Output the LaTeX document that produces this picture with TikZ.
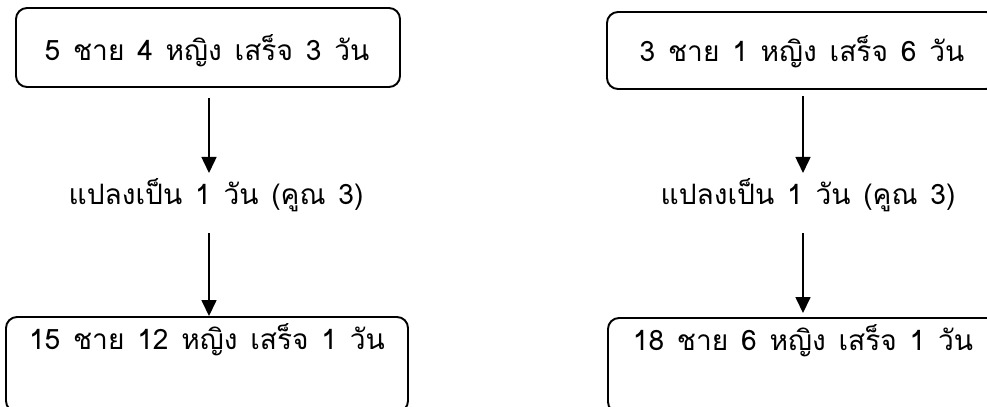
\documentclass[tikz,border=0pt]{standalone}
\usepackage{fontspec}
\newfontfamily\thaifont[Script=Thai,WordSpace=1.35]{Loma}
\usetikzlibrary{positioning,arrows.meta}
\tikzset{
  stepbox/.style={draw=black, line width=1.1pt, rounded corners=0.22cm},
  flow/.style={-{Triangle[length=0.32cm,width=0.3cm]}, line width=0.9pt},
  word/.style={font=\thaifont\fontsize{16}{19}\selectfont, inner sep=0pt}
}
\begin{document}
\begin{tikzpicture}
  \clip (0,0) rectangle (19.74,-8.14);

  % left column
  \node[stepbox, minimum width=7.68cm, minimum height=1.58cm] (top1) at (4.16,-0.95) {};
  \node[word] (top1text) at (4.14,-1.02) {5 ชาย 4 หญิง เสร็จ 3 วัน};
  \node[word] (mid1) at (4.32,-3.9) {แปลงเป็น 1 วัน (คูณ 3)};
  \node[stepbox, minimum width=8.04cm, minimum height=1.9cm] (bot1) at (4.14,-7.29) {};
  \node[word] (bot1text) at (4.14,-6.8) {15 ชาย 12 หญิง เสร็จ 1 วัน};

  % right column
  \node[stepbox, minimum width=7.8cm, minimum height=1.54cm] (top2) at (16.04,-1.01) {};
  \node[word] (top2text) at (16.04,-1.04) {3 ชาย 1 หญิง เสร็จ 6 วัน};
  \node[word] (mid2) at (16.16,-3.9) {แปลงเป็น 1 วัน (คูณ 3)};
  \node[stepbox, minimum width=7.8cm, minimum height=1.9cm] (bot2) at (16.06,-7.31) {};
  \node[word] (bot2text) at (16.06,-6.82) {18 ชาย 6 หญิง เสร็จ 1 วัน};

  \draw[flow, shorten <=0.2cm, shorten >=0.1cm] ([xshift=0.02cm]top1.south) -- ([xshift=0.02cm]top1.south |- mid1.north);
  \draw[flow, shorten <=0.42cm] ([xshift=0.02cm]top1.south |- mid1.south) -- ([xshift=0.02cm]top1.south |- bot1.north);
  \draw[flow, shorten <=0.12cm, shorten >=0.1cm] ([xshift=0.02cm]top2.south) -- ([xshift=0.02cm]top2.south |- mid2.north);
  \draw[flow, shorten <=0.42cm, shorten >=0.08cm] ([xshift=0.02cm]top2.south |- mid2.south) -- ([xshift=0.02cm]top2.south |- bot2.north);
\end{tikzpicture}
\end{document}
